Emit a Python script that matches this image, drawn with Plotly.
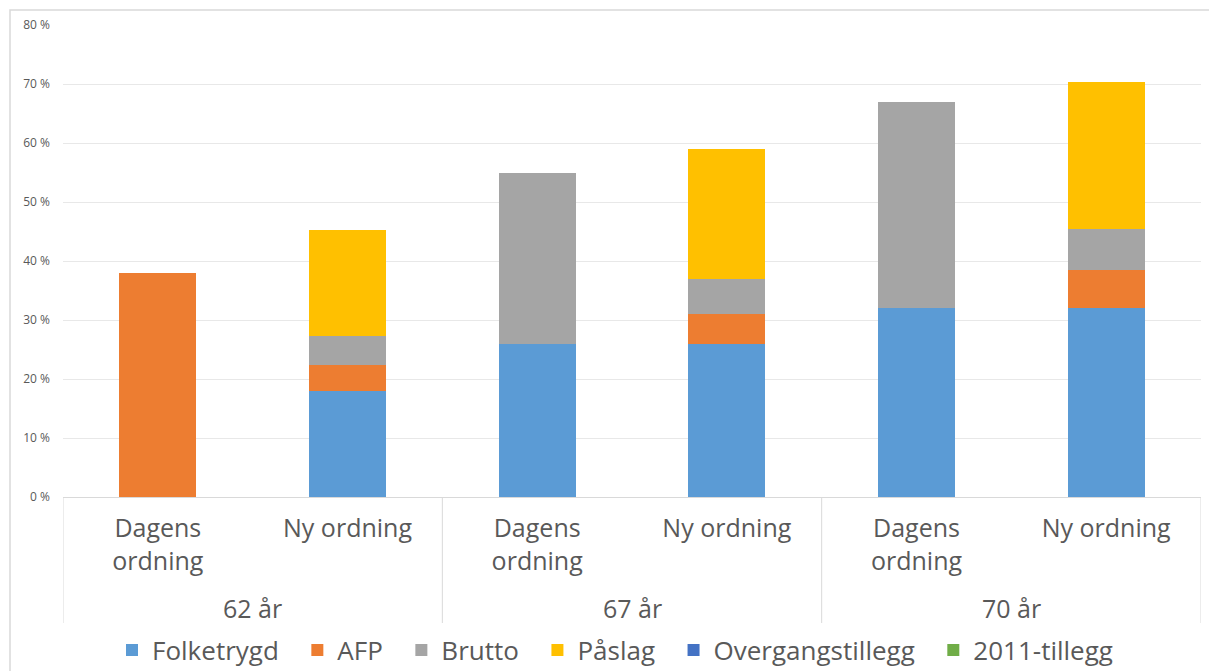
import plotly.graph_objects as go

groups = ["62 år", "62 år", "67 år", "67 år", "70 år", "70 år"]
schemes = ["Dagens<br>ordning", "Ny ordning", "Dagens<br>ordning", "Ny ordning", "Dagens<br>ordning", "Ny ordning"]

folketrygd = [0, 18, 26, 26, 32, 32]
afp = [38, 4.3, 0, 5, 0, 6.4]
brutto = [0, 5, 29, 6, 35, 7]
paslag = [0, 18, 0, 22, 0, 25]
overgangstillegg = [0, 0, 0, 0, 0, 0]
tillegg2011 = [0, 0, 0, 0, 0, 0]

series_names = ["Folketrygd", "AFP", "Brutto", "Påslag", "Overgangstillegg", "2011-tillegg"]
series_values = [folketrygd, afp, brutto, paslag, overgangstillegg, tillegg2011]
series_colors = ["#5B9BD5", "#ED7D31", "#A5A5A5", "#FFC000", "#4472C4", "#70AD47"]

pos = list(range(len(schemes)))

fig = go.Figure()
n = len(series_names)
for k, (name, vals, col) in enumerate(zip(series_names, series_values, series_colors)):
    pad = "\u00a0\u00a0" if k < n - 1 else ""  # extra spacing between legend entries
    fig.add_trace(go.Bar(
        x=pos, y=vals, name=name + pad,
        marker=dict(color=col, line=dict(width=0)),
    ))

# page body has an 8px offset; plot area in screen coords: x 63..1201, y 25..497
L, T, R, B = 55, 17, 24, 182
PW = 1217 - L - R
PH = 671 - T - B

TXT = "#595959"
font_family = "'Open Sans', sans-serif"

# outer group labels and dividers
group_names = []
for g in groups:
    if g not in group_names:
        group_names.append(g)
annotations = []
shapes = []
for gname in group_names:
    idx = [i for i, g in enumerate(groups) if g == gname]
    annotations.append(dict(x=sum(idx) / len(idx), y=-111 / PH, xref="x", yref="paper",
                            text=gname, showarrow=False, yanchor="middle",
                            font=dict(size=25, color=TXT, family=font_family)))
bounds = [-0.5] + [i + 0.5 for i in range(len(groups) - 1) if groups[i] != groups[i + 1]] + [len(groups) - 0.5]
for b in bounds:
    shapes.append(dict(type="line", xref="x", yref="paper", x0=b, x1=b, y0=0, y1=-126 / PH,
                       line=dict(color="#D9D9D9", width=1)))
shapes.append(dict(type="rect", xref="paper", yref="paper",
                   x0=(2 - L) / PW, x1=1.2, y0=-0.6, y1=1 + (T - 2) / PH,
                   line=dict(color="#D9D9D9", width=1.5), fillcolor="rgba(0,0,0,0)",
                   layer="below"))

fig.update_layout(
    barmode="stack",
    bargap=0.595,
    width=1217, height=671,
    margin=dict(l=L, r=R, t=T, b=B, autoexpand=False),
    paper_bgcolor="white", plot_bgcolor="white",
    font=dict(family=font_family, color=TXT),
    showlegend=True,
    legend=dict(orientation="h", x=(607 - L) / PW, xanchor="center",
                yref="container", y=1 - 642 / 671, yanchor="middle",
                font=dict(size=26, color=TXT), traceorder="normal"),
    yaxis=dict(range=[0, 80], dtick=10, ticksuffix=" %", showgrid=True,
               gridcolor="#E8E8E8", gridwidth=1, zeroline=False, automargin=False,
               tickfont=dict(size=12, color=TXT), ticks="", showline=False,
               ticklabelstandoff=12),
    xaxis=dict(range=[-0.5, len(schemes) - 0.5], tickmode="array", tickvals=pos, ticktext=schemes,
               showline=True, linecolor="#D9D9D9", linewidth=1, showgrid=False,
               zeroline=False, automargin=False,
               tickfont=dict(size=25, color=TXT), ticks="", ticklabelstandoff=9),
    annotations=annotations,
    shapes=shapes,
)
fig.write_html("out.html")
